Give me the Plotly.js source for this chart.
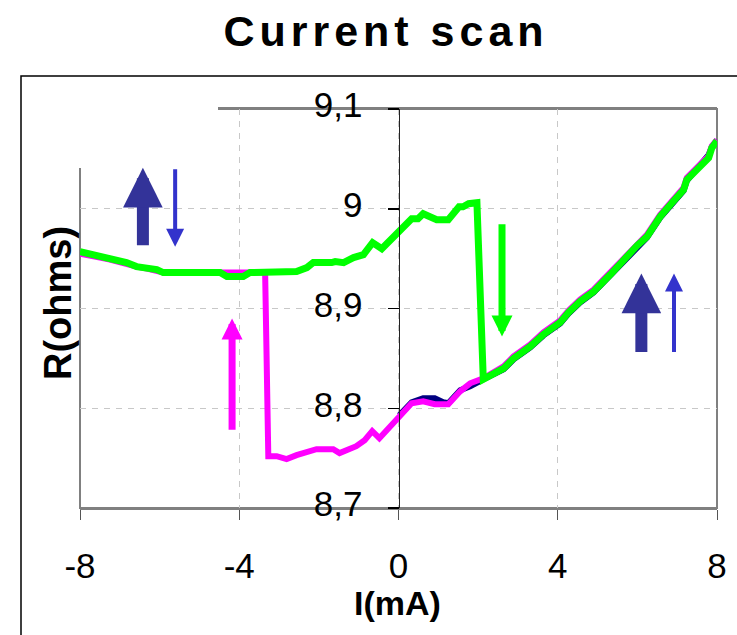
<!DOCTYPE html>
<html>
<head>
<meta charset="utf-8">
<script src="https://cdn.plot.ly/plotly-3.0.1.min.js"></script>
<style>
  html, body { margin: 0; padding: 0; background: #fff; }
  #chart { width: 737px; height: 635px; }
  .gtitle { letter-spacing: 5px; }
</style>
</head>
<body>
<div id="chart"></div>
<script>
// ---- data ----
const I_navy = [0.02, 0.33, 0.62, 0.91, 1.12, 1.25, 1.55, 1.80, 2.13, 2.64, 2.89, 3.31, 3.64, 4.06, 4.27, 4.56, 4.90, 5.32, 5.65, 5.99, 6.24, 6.57, 6.87, 7.16, 7.24, 7.41, 7.58, 7.79, 7.87, 8.00];
const R_navy = [8.793, 8.806, 8.810, 8.810, 8.806, 8.805, 8.818, 8.822, 8.829, 8.839, 8.849, 8.861, 8.873, 8.885, 8.895, 8.906, 8.916, 8.933, 8.948, 8.962, 8.971, 8.991, 9.005, 9.018, 9.028, 9.036, 9.043, 9.054, 9.062, 9.069];

const I_magenta = [-8.00, -7.71, -7.50, -7.25, -7.00, -6.58, -6.32, -6.07, -5.91, -4.98, -4.48, -4.31, -3.90, -3.73, -3.35,
  -3.27, -3.06, -2.81, -2.56, -2.06, -1.64, -1.48, -1.27, -1.06, -0.85, -0.66, -0.48, 0.02, 0.33, 0.62, 0.91, 1.12, 1.25, 1.55, 1.80,
  2.13, 2.64, 2.89, 3.31, 3.64, 4.06, 4.27, 4.56, 4.90, 5.32, 5.65, 5.99, 6.24, 6.57, 6.87, 7.16, 7.24, 7.41, 7.58, 7.79, 7.87, 8.00];
const R_magenta = [8.955, 8.952, 8.951, 8.949, 8.946, 8.942, 8.940, 8.938, 8.936, 8.936, 8.937, 8.936, 8.936, 8.936, 8.936,
  8.752, 8.752, 8.749, 8.753, 8.759, 8.759, 8.755, 8.759, 8.762, 8.768, 8.777, 8.770, 8.793, 8.805, 8.807, 8.804, 8.804, 8.804, 8.817, 8.825,
  8.830, 8.842, 8.852, 8.864, 8.876, 8.888, 8.898, 8.909, 8.919, 8.936, 8.951, 8.965, 8.974, 8.994, 9.008, 9.021, 9.031, 9.038, 9.044, 9.053, 9.063, 9.069];

const I_green = [-8.00, -7.71, -7.50, -7.25, -7.00, -6.83, -6.58, -6.32, -6.07, -5.91, -4.98, -4.48, -4.31, -3.90, -3.73, -3.31,
  -2.56, -2.30, -2.14, -1.68, -1.59, -1.38, -1.13, -0.88, -0.65, -0.42, 0.04, 0.33, 0.49, 0.62, 0.79, 0.96, 1.25, 1.42, 1.52, 1.62, 1.76, 1.97,
  2.13, 2.64, 2.89, 3.31, 3.64, 4.06, 4.27, 4.56, 4.90, 5.32, 5.65, 5.99, 6.24, 6.57, 6.87, 7.16, 7.24, 7.41, 7.58, 7.79, 7.87, 8.00];
const R_green = [8.957, 8.954, 8.952, 8.951, 8.947, 8.946, 8.942, 8.941, 8.939, 8.936, 8.936, 8.936, 8.932, 8.932, 8.936, 8.936,
  8.937, 8.941, 8.946, 8.946, 8.947, 8.946, 8.951, 8.954, 8.966, 8.960, 8.979, 8.990, 8.990, 8.995, 8.992, 8.989, 8.989, 8.997, 9.002, 9.002, 9.005, 9.006,
  8.829, 8.840, 8.850, 8.862, 8.874, 8.886, 8.896, 8.907, 8.917, 8.934, 8.949, 8.963, 8.972, 8.992, 9.006, 9.019, 9.029, 9.036, 9.042, 9.051, 9.061, 9.068];

const xTickVals = [-8, -4, 0, 4, 8];
const xTickText = ['-8', '-4', '0', '4', '8'];
const yTickVals = [8.7, 8.8, 8.9, 9.0, 9.1];
const yTickText = ['8,7', '8,8', '8,9', '9', '9,1'];

const titleText = 'Current scan';
const xTitle = 'I(mA)';
const yTitle = 'R(ohms)';

// ---- layout helpers ----
const W = 737, H = 635;
const M = {l: 80, r: 20, t: 109, b: 127};
const PW = W - M.l - M.r, PH = H - M.t - M.b;
const px = v => (v - M.l) / PW;          // pixel -> paper x
const py = v => (H - M.b - v) / PH;      // pixel -> paper y

const FONT = 'Liberation Sans, Arial, sans-serif';

const traces = [
  {x: I_navy, y: R_navy, mode: 'lines', line: {color: '#000080', width: 6}, hoverinfo: 'skip', showlegend: false},
  {x: I_magenta, y: R_magenta, mode: 'lines', line: {color: '#ff00ff', width: 6}, hoverinfo: 'skip', showlegend: false},
  {x: I_green, y: R_green, mode: 'lines', line: {color: '#00ff00', width: 7}, hoverinfo: 'skip', showlegend: false}
];

function arrow(x, yTail, yTip, color, w, s) {
  return {x: x, y: yTip, ax: x, ay: yTail, xref: 'x', yref: 'y', axref: 'x', ayref: 'y',
    text: '', showarrow: true, arrowhead: 2, arrowsize: s, arrowwidth: w, arrowcolor: color, standoff: 0, startstandoff: 0};
}

const layout = {
  width: W, height: H,
  margin: M,
  paper_bgcolor: '#fff', plot_bgcolor: '#fff',
  font: {family: FONT, color: '#000'},
  title: {text: titleText, font: {family: FONT, size: 43, weight: 700, color: '#000'},
          x: 386 / W, xref: 'container', xanchor: 'center', y: 1 - 31 / H, yref: 'container', yanchor: 'middle'},
  xaxis: {
    range: [-8, 8], tickmode: 'array', tickvals: xTickVals, ticktext: xTickText,
    showline: true, linecolor: '#808080', linewidth: 2, mirror: true,
    ticks: 'outside', ticklen: 10, tickcolor: '#555', tickwidth: 1,
    tickfont: {family: FONT, size: 35, color: '#000'}, ticklabelstandoff: 16,
    showgrid: true, gridcolor: '#c8c8c8', gridwidth: 1, griddash: '6px,6px',
    zeroline: false, fixedrange: true
  },
  yaxis: {
    range: [8.7, 9.1], tickmode: 'array', tickvals: yTickVals, ticktext: yTickText,
    anchor: 'free', position: 0.5,
    showline: true, linecolor: '#222', linewidth: 1.5,
    ticks: 'outside', ticklen: 11, tickcolor: '#000', tickwidth: 1.5,
    tickfont: {family: FONT, size: 35, color: '#000'}, ticklabelstandoff: 18, ticklabelshift: -4,
    showgrid: true, gridcolor: '#c8c8c8', gridwidth: 1, griddash: '6px,6px',
    zeroline: false, fixedrange: true
  },
  shapes: [
    // plot frame (left / right sides)
    {type: 'rect', xref: 'paper', yref: 'paper', x0: 0, x1: 1, y0: 0, y1: 1, line: {color: '#808080', width: 2}, layer: 'below'},
    // outer chart border
    {type: 'rect', xref: 'paper', yref: 'paper', x0: px(21), x1: px(760), y0: py(76), y1: py(660), line: {color: '#000', width: 1.5}, layer: 'above'},
    // white box hiding the top-left corner
    {type: 'rect', xref: 'paper', yref: 'paper', x0: px(23), x1: px(218), y0: py(106), y1: py(168), line: {width: 0}, fillcolor: '#fff', layer: 'above'}
  ],
  annotations: [
    arrow(-6.42, 8.962, 9.041, '#333399', 12, 0.66),
    arrow(-5.61, 9.041, 8.962, '#3333cc', 4, 0.9),
    arrow(-4.18, 8.777, 8.890, '#ff00ff', 7, 0.6),
    arrow(2.60, 8.986, 8.872, '#00ff00', 7, 0.6),
    arrow(6.10, 8.855, 8.935, '#333399', 12, 0.66),
    arrow(6.92, 8.855, 8.935, '#3333cc', 4, 0.9),
    {text: yTitle, xref: 'paper', yref: 'paper', x: px(58), y: py(303), xanchor: 'center', yanchor: 'middle',
     textangle: -90, showarrow: false, font: {family: FONT, size: 38, weight: 700, color: '#000'}},
    {text: xTitle, xref: 'paper', yref: 'paper', x: px(397), y: py(603), xanchor: 'center', yanchor: 'middle',
     showarrow: false, font: {family: FONT, size: 34, weight: 700, color: '#000'}}
  ]
};

Plotly.newPlot('chart', traces, layout, {staticPlot: true, displayModeBar: false});
</script>
</body>
</html>
